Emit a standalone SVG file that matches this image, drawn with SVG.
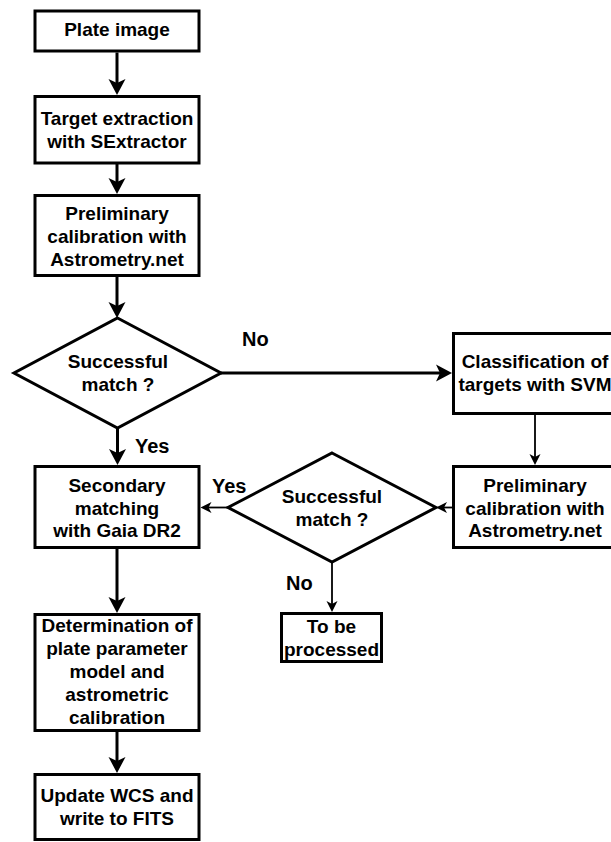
<svg xmlns="http://www.w3.org/2000/svg" width="611" height="842" viewBox="0 0 611 842">
<style>
  .box { fill: #ffffff; stroke: #000000; stroke-width: 3; }
  .t { font-family: "Liberation Sans", Arial, sans-serif; font-weight: bold; font-size: 19px; fill: #000000; text-anchor: middle; }
  .lbl { font-family: "Liberation Sans", Arial, sans-serif; font-weight: bold; font-size: 20px; fill: #000000; }
  .thick { fill: none; stroke: #000000; stroke-width: 3; marker-end: url(#ah); }
  .thin { fill: none; stroke: #000000; stroke-width: 1.8; marker-end: url(#ahs); }
</style>
<defs>
  <marker id="ah" markerUnits="userSpaceOnUse" markerWidth="16" markerHeight="17" refX="8" refY="8.5" orient="auto" overflow="visible">
    <path d="M0,0 L16,8.5 L0,17 L4,8.5 Z" fill="#000000"/>
  </marker>
  <marker id="ahs" markerUnits="userSpaceOnUse" markerWidth="11" markerHeight="11" refX="5" refY="5.5" orient="auto" overflow="visible">
    <path d="M0,0 L11,5.5 L0,11 L3,5.5 Z" fill="#000000"/>
  </marker>
</defs>
<rect width="611" height="842" fill="#ffffff"/>
<g id="connectors">
  <path class="thick" d="M117,52.5 L117,87"/>
  <path class="thick" d="M117,164 L117,186"/>
  <path class="thick" d="M117,277 L117,310"/>
  <path class="thick" d="M221,373 L444,373"/>
  <path class="thick" d="M117.5,428 L117.5,457"/>
  <path class="thick" d="M117,549 L117,605"/>
  <path class="thick" d="M117,732 L117,765"/>
  <path class="thin" d="M535,415 L535,459"/>
  <path class="thin" d="M452,507.5 L442,507.5"/>
  <path class="thin" d="M228,507.5 L206.5,507.5"/>
  <path class="thin" d="M332,562 L332,606"/>
  <text class="lbl" x="242" y="346">No</text>
  <text class="lbl" x="135" y="453">Yes</text>
  <text class="lbl" x="212" y="493">Yes</text>
  <text class="lbl" x="286" y="590">No</text>
</g>
<g id="plate-image">
  <rect class="box" x="35" y="11" width="164" height="40"/>
  <text class="t" x="117" y="36">Plate image</text>
</g>
<g id="target-extraction">
  <rect class="box" x="35" y="96.5" width="164" height="66.5"/>
  <text class="t" x="117" y="125">Target extraction</text>
  <text class="t" x="117" y="148">with SExtractor</text>
</g>
<g id="preliminary-1">
  <rect class="box" x="35" y="195.5" width="164" height="80"/>
  <text class="t" x="117" y="220">Preliminary</text>
  <text class="t" x="117" y="243">calibration with</text>
  <text class="t" x="117" y="266">Astrometry.net</text>
</g>
<g id="decision-1">
  <polygon class="box" points="117.5,318 221,373 117.5,428 14,373"/>
  <text class="t" x="118" y="368">Successful</text>
  <text class="t" x="118" y="391">match ?</text>
</g>
<g id="classification">
  <rect class="box" x="453.5" y="333.5" width="164" height="80"/>
  <text class="t" x="535" y="368">Classification of</text>
  <text class="t" x="535" y="391">targets with SVM</text>
</g>
<g id="preliminary-2">
  <rect class="box" x="453.5" y="466.5" width="164" height="81"/>
  <text class="t" x="535" y="492">Preliminary</text>
  <text class="t" x="535" y="515">calibration with</text>
  <text class="t" x="535" y="537">Astrometry.net</text>
</g>
<g id="decision-2">
  <polygon class="box" points="332,453 436,507.5 332,562 228,507.5"/>
  <text class="t" x="332" y="502.5">Successful</text>
  <text class="t" x="332" y="525.5">match ?</text>
</g>
<g id="secondary-matching">
  <rect class="box" x="35" y="466.5" width="164" height="81"/>
  <text class="t" x="117" y="492">Secondary</text>
  <text class="t" x="117" y="515">matching</text>
  <text class="t" x="117" y="537">with Gaia DR2</text>
</g>
<g id="to-be-processed">
  <rect class="box" x="281.5" y="613.5" width="100" height="48"/>
  <text class="t" x="331.5" y="633">To be</text>
  <text class="t" x="331.5" y="656">processed</text>
</g>
<g id="determination">
  <rect class="box" x="35" y="614.5" width="164" height="116"/>
  <text class="t" x="117" y="632">Determination of</text>
  <text class="t" x="117" y="655">plate parameter</text>
  <text class="t" x="117" y="678">model and</text>
  <text class="t" x="117" y="701">astrometric</text>
  <text class="t" x="117" y="724">calibration</text>
</g>
<g id="update-wcs">
  <rect class="box" x="35" y="774.5" width="164" height="65"/>
  <text class="t" x="117" y="802">Update WCS and</text>
  <text class="t" x="117" y="825">write to FITS</text>
</g>
</svg>
